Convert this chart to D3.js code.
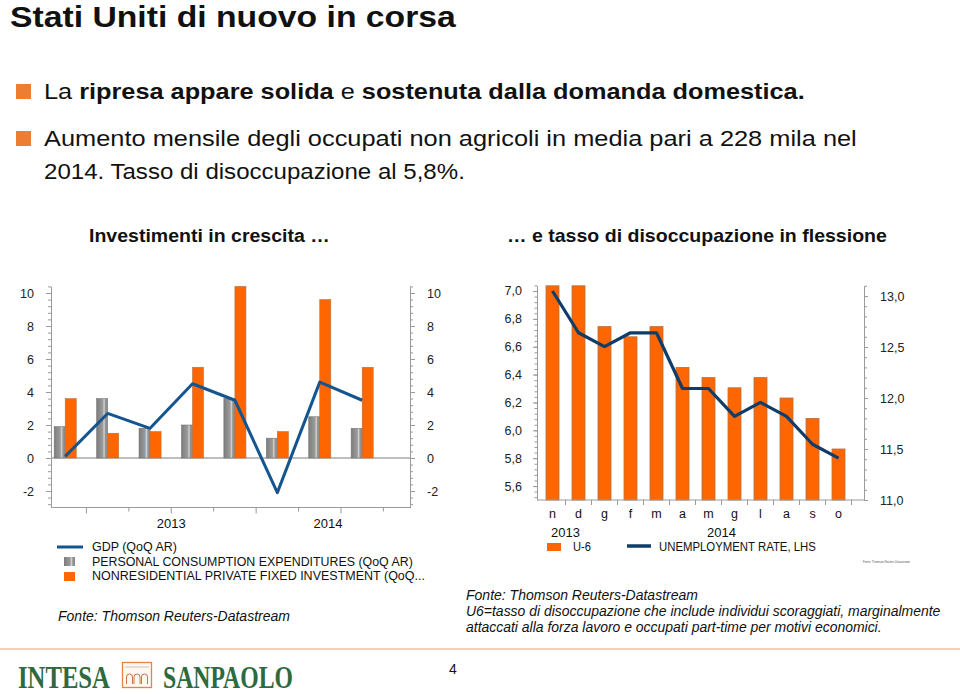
<!DOCTYPE html>
<html>
<head>
<meta charset="utf-8">
<script src="https://cdn.jsdelivr.net/npm/d3@7"></script>
<style>
  body { margin: 0; background: #fff; }
  svg { display: block; font-family: "Liberation Sans", Arial, sans-serif; }
  text { white-space: pre; }
  .axis text { font-size: 12.5px; fill: #222; font-family: "Liberation Sans", Arial, sans-serif; }
  .axis path, .axis line { stroke: #9a9a9a; }
</style>
</head>
<body>
<svg id="slide" width="960" height="694"></svg>
<script>
// --- left chart: US GDP components, QoQ annualised
const quarters = ["2012Q4", "2013Q1", "2013Q2", "2013Q3", "2013Q4", "2014Q1", "2014Q2", "2014Q3"]
const gdp = [0.1, 2.7, 1.8, 4.5, 3.5, -2.1, 4.6, 3.5]
const pce = [1.9, 3.6, 1.8, 2.0, 3.6, 1.2, 2.5, 1.8]
const nrfi = [3.6, 1.5, 1.6, 5.5, 10.4, 1.6, 9.6, 5.5]
const gdpTicks = [-2, 0, 2, 4, 6, 8, 10]
const quarterYears = ["2013", "2014"]

// --- right chart: unemployment rate and U-6
const months = ["n", "d", "g", "f", "m", "a", "m", "g", "l", "a", "s", "o"]
const monthYears = ["2013", "2013", "2014", "2014", "2014", "2014", "2014", "2014", "2014", "2014", "2014", "2014"]
const unemp = [7.0, 6.7, 6.6, 6.7, 6.7, 6.3, 6.3, 6.1, 6.2, 6.1, 5.9, 5.8]
const u6 = [13.1, 13.1, 12.7, 12.6, 12.7, 12.3, 12.2, 12.1, 12.2, 12.0, 11.8, 11.5]
const rateTicks = [5.6, 5.8, 6.0, 6.2, 6.4, 6.6, 6.8, 7.0]
const u6Ticks = [11.0, 11.5, 12.0, 12.5, 13.0]

const ORANGE = "#ff6600"
const ORANGE_EDGE = "#b8703f"
const svg = d3.select("#slide")
const it = d3.formatLocale({ decimal: ",", thousands: ".", grouping: [3], currency: ["", " €"], minus: "-" })
const fmt1 = it.format(".1f")
const fmtInt = it.format("d")

// text squeezed horizontally to a measured width (the slide is narrower than Arial)
function label(parent, x, y, content, o = {}) {
  const t = parent.append("text")
    .attr("x", x).attr("y", y)
    .attr("text-anchor", o.anchor || "start")
    .attr("fill", o.fill || "#111")
    .style("font-size", (o.size || 13) + "px")
    .style("font-weight", o.weight || "normal")
    .style("font-style", o.italic ? "italic" : "normal")
    .style("font-family", o.family || null)
  const parts = Array.isArray(content) ? content : [[content, false]]
  parts.forEach(([s, b]) => t.append("tspan").text(s).style("font-weight", b ? "bold" : null))
  if (o.width) {
    const k = o.width / t.node().getComputedTextLength()
    t.attr("transform", `translate(${x},0) scale(${k},1) translate(${-x},0)`)
  }
  return t
}

const defs = svg.append("defs")
const grad = defs.append("linearGradient").attr("id", "grayBar")
  .attr("x1", "0").attr("x2", "1").attr("y1", "0").attr("y2", "0")
grad.selectAll("stop")
  .data([[0, "#7c7c7c"], [0.55, "#9b9b9b"], [0.68, "#d2d2d2"], [0.8, "#969696"], [1, "#888"]])
  .join("stop").attr("offset", d => d[0]).attr("stop-color", d => d[1])

// ---------- header texts
label(svg, 10, 27, "Stati Uniti di nuovo in corsa", { size: 30, weight: "bold", width: 446 })

svg.append("rect").attr("x", 16).attr("y", 84).attr("width", 15).attr("height", 15).attr("fill", "#ef7d31")
svg.append("rect").attr("x", 16).attr("y", 131).attr("width", 15).attr("height", 15).attr("fill", "#ef7d31")
label(svg, 44, 99, [["La ", false], ["ripresa appare solida", true], [" e ", false], ["sostenuta dalla domanda domestica.", true]],
  { size: 22, width: 761 })
label(svg, 44, 146, "Aumento mensile degli occupati non agricoli in media pari a 228 mila nel", { size: 22, width: 813 })
label(svg, 44, 179, "2014. Tasso di disoccupazione al 5,8%.", { size: 22, width: 421 })

label(svg, 89, 242, "Investimenti in crescita \u2026", { size: 19, weight: "bold", width: 241 })
label(svg, 507, 242, "\u2026 e tasso di disoccupazione in flessione", { size: 19, weight: "bold", width: 380 })

// ---------- left chart
const gL = svg.append("g")
const x0 = d3.scaleBand().domain(quarters).range([44, 383.4])
const bw = x0.bandwidth()
const x1 = d3.scaleBand().domain(["pce", "nrfi"]).range([bw * 0.24, bw * 0.76])
const yL = d3.scaleLinear().domain([-3, 10.4]).range([507.5, 286.4])

gL.append("g").attr("class", "axis").attr("transform", "translate(51,0)")
  .call(d3.axisLeft(yL).tickValues(d3.range(-2.8, 10.5, 0.4)).tickSize(3).tickFormat(""))
  .call(g => g.select(".domain").remove())
gL.append("g").attr("class", "axis").attr("transform", "translate(51,0)")
  .call(d3.axisLeft(yL).tickValues(gdpTicks).tickSize(5).tickPadding(12).tickSizeOuter(0).tickFormat(fmtInt))
gL.append("g").attr("class", "axis").attr("transform", "translate(410,0)")
  .call(d3.axisRight(yL).tickValues(d3.range(-2.8, 10.5, 0.4)).tickSize(3).tickFormat(""))
  .call(g => g.select(".domain").remove())
gL.append("g").attr("class", "axis").attr("transform", "translate(410,0)")
  .call(d3.axisRight(yL).tickValues(gdpTicks).tickSize(5).tickPadding(12).tickSizeOuter(0).tickFormat(fmtInt))

// bottom frame with quarter ticks
gL.append("line").attr("x1", 51).attr("x2", 410).attr("y1", yL(-3)).attr("y2", yL(-3)).attr("stroke", "#9a9a9a")
const qTicks = quarters.slice(1).map(q => ({ x: x0(q), major: /Q[13]/.test(q) }))
qTicks.push({ x: x0(quarters[quarters.length - 1]) + bw, major: false })
gL.selectAll(".qtick").data(qTicks).join("line").attr("class", "qtick")
  .attr("x1", d => d.x).attr("x2", d => d.x)
  .attr("y1", yL(-3)).attr("y2", d => yL(-3) + (d.major ? 6 : 4))
  .attr("stroke", "#9a9a9a")
quarterYears.forEach(yr => {
  const start = x0(yr + "Q1")
  const end = Math.min(start + 4 * bw, 400)
  label(gL, (start + end) / 2, 528, yr, { size: 13, anchor: "middle" })
})

gL.append("line").attr("x1", 51).attr("x2", 410).attr("y1", yL(0)).attr("y2", yL(0))
  .attr("stroke", "#a8a8a8").attr("stroke-width", 1.5)

const barRect = (v) => ({ y: yL(Math.max(v, 0)), h: Math.abs(yL(v) - yL(0)) })
gL.selectAll(".pce").data(quarters).join("rect").attr("class", "pce")
  .attr("x", q => x0(q) + x1("pce"))
  .attr("width", x1.bandwidth())
  .attr("y", (q, i) => barRect(pce[i]).y)
  .attr("height", (q, i) => barRect(pce[i]).h)
  .attr("fill", "url(#grayBar)").attr("stroke", "#777").attr("stroke-width", 0.6)
gL.selectAll(".nrfi").data(quarters).join("rect").attr("class", "nrfi")
  .attr("x", q => x0(q) + x1("nrfi"))
  .attr("width", x1.bandwidth())
  .attr("y", (q, i) => barRect(nrfi[i]).y)
  .attr("height", (q, i) => barRect(nrfi[i]).h)
  .attr("fill", ORANGE).attr("stroke", ORANGE_EDGE).attr("stroke-width", 0.6)

const gdpLine = d3.line().x((v, i) => x0(quarters[i]) + bw / 2).y(v => yL(v))
gL.append("path").datum(gdp).attr("d", gdpLine)
  .attr("fill", "none").attr("stroke", "#15558f").attr("stroke-width", 3).attr("stroke-linejoin", "round")

// legend left
gL.append("line").attr("x1", 57).attr("x2", 83).attr("y1", 547).attr("y2", 547)
  .attr("stroke", "#15558f").attr("stroke-width", 3)
gL.append("rect").attr("x", 64).attr("y", 557).attr("width", 11).attr("height", 9).attr("fill", "url(#grayBar)")
gL.append("rect").attr("x", 64).attr("y", 572).attr("width", 11).attr("height", 9).attr("fill", ORANGE)
label(gL, 92, 551, "GDP (QoQ AR)", { size: 12.5, width: 85 })
label(gL, 92, 565.5, "PERSONAL CONSUMPTION EXPENDITURES (QoQ AR)", { size: 12.5, width: 321 })
label(gL, 92, 580, "NONRESIDENTIAL PRIVATE FIXED INVESTMENT (QoQ...", { size: 12.5, width: 333 })
label(gL, 58, 621, "Fonte: Thomson Reuters-Datastream", { size: 14, italic: true, width: 232 })

// ---------- right chart
const gR = svg.append("g")
const xm = d3.scaleBand().domain(d3.range(months.length)).range([539.5, 851.5]).paddingInner(0.5).paddingOuter(0.25)
const mbw = xm.bandwidth()
const yRate = d3.scaleLinear().domain([5.5, 7.04]).range([500, 285.4])
const yU6 = d3.scaleLinear().domain([11, 13.1]).range([500, 285.8])

gR.append("g").attr("class", "axis").attr("transform", "translate(537,0)")
  .call(d3.axisLeft(yRate).tickValues(d3.range(5.52, 7.05, 0.04)).tickSize(2.5).tickFormat(""))
  .call(g => g.select(".domain").remove())
gR.append("g").attr("class", "axis").attr("transform", "translate(537,0)")
  .call(d3.axisLeft(yRate).tickValues(rateTicks).tickSize(4).tickPadding(11).tickSizeOuter(0).tickFormat(fmt1))
gR.append("g").attr("class", "axis").attr("transform", "translate(864,0)")
  .call(d3.axisRight(yU6).tickValues(d3.range(11, 13.11, 0.1)).tickSize(3).tickFormat(""))
  .call(g => g.select(".domain").remove())
gR.append("g").attr("class", "axis").attr("transform", "translate(864,0)")
  .call(d3.axisRight(yU6).tickValues(u6Ticks).tickSize(4).tickPadding(12).tickSizeOuter(0).tickFormat(fmt1))

gR.selectAll(".u6").data(u6).join("rect").attr("class", "u6")
  .attr("x", (v, i) => xm(i)).attr("width", mbw)
  .attr("y", v => yU6(v)).attr("height", v => yU6(11) - yU6(v))
  .attr("fill", ORANGE).attr("stroke", ORANGE_EDGE).attr("stroke-width", 0.8)

gR.append("line").attr("x1", 537).attr("x2", 864).attr("y1", 500).attr("y2", 500).attr("stroke", "#9a9a9a")
gR.selectAll(".mtick").data(months).join("line").attr("class", "mtick")
  .attr("x1", (m, i) => xm(i) + mbw + (xm.step() - mbw) / 2)
  .attr("x2", (m, i) => xm(i) + mbw + (xm.step() - mbw) / 2)
  .attr("y1", 500).attr("y2", 505).attr("stroke", "#9a9a9a")

const rateLine = d3.line().x((v, i) => xm(i) + mbw / 2).y(v => yRate(v))
gR.append("path").datum(unemp).attr("d", rateLine)
  .attr("fill", "none").attr("stroke", "#0f3c68").attr("stroke-width", 3.2).attr("stroke-linejoin", "round")

months.forEach((m, i) => label(gR, xm(i) + mbw / 2, 518, m, { size: 12.5, anchor: "middle" }))
d3.groups(months.map((m, i) => i), i => monthYears[i]).forEach(([yr, idx]) => {
  const a = xm(idx[0]) - (xm.step() - mbw) / 2
  const b = xm(idx[idx.length - 1]) + mbw + (xm.step() - mbw) / 2
  label(gR, (a + b) / 2, 537, yr, { size: 13, anchor: "middle" })
})

// legend right
gR.append("rect").attr("x", 547).attr("y", 543).attr("width", 14).attr("height", 8).attr("fill", ORANGE)
label(gR, 573, 551, "U-6", { size: 13, width: 18 })
gR.append("line").attr("x1", 627).attr("x2", 651).attr("y1", 546).attr("y2", 546)
  .attr("stroke", "#0f3c68").attr("stroke-width", 3.5)
label(gR, 659, 551, "UNEMPLOYMENT RATE, LHS", { size: 13, width: 157 })
label(gR, 863, 563, "Fonte: Thomson Reuters Datastream", { size: 3.5, fill: "#555", width: 47 })

label(gR, 466, 600, "Fonte: Thomson Reuters-Datastream", { size: 14, italic: true, width: 232 })
label(gR, 466, 616, "U6=tasso di disoccupazione che include individui scoraggiati, marginalmente", { size: 14, italic: true, width: 475 })
label(gR, 466, 632.5, "attaccati alla forza lavoro e occupati part-time per motivi economici.", { size: 14, italic: true, width: 416 })

// ---------- footer
svg.append("line").attr("x1", 0).attr("x2", 960).attr("y1", 649).attr("y2", 649)
  .attr("stroke", "#e9a26e").attr("stroke-width", 1.2)
label(svg, 449, 674, "4", { size: 14 })

const logo = svg.append("g")
label(logo, 18, 688, "INTESA", { size: 31, weight: "bold", family: "'Liberation Serif', serif", fill: "#2d6a3e", width: 92 })
label(logo, 163, 688, "SANPAOLO", { size: 31, weight: "bold", family: "'Liberation Serif', serif", fill: "#2d6a3e", width: 130 })
logo.append("rect").attr("x", 122.5).attr("y", 662.5).attr("width", 29).attr("height", 25)
  .attr("fill", "#fff8f1").attr("stroke", "#e5834a").attr("stroke-width", 1.3)
logo.append("line").attr("x1", 125).attr("x2", 149).attr("y1", 667).attr("y2", 667).attr("stroke", "#c4c4c4")
logo.selectAll(".arch").data([0, 1, 2]).join("path").attr("class", "arch")
  .attr("d", k => { const x = 126.5 + k * 7.5; return `M${x},684V677A3,3 0 0 1 ${x + 6},677V684` })
  .attr("fill", "none").attr("stroke", "#c8763f").attr("stroke-width", 1)
</script>
</body>
</html>
